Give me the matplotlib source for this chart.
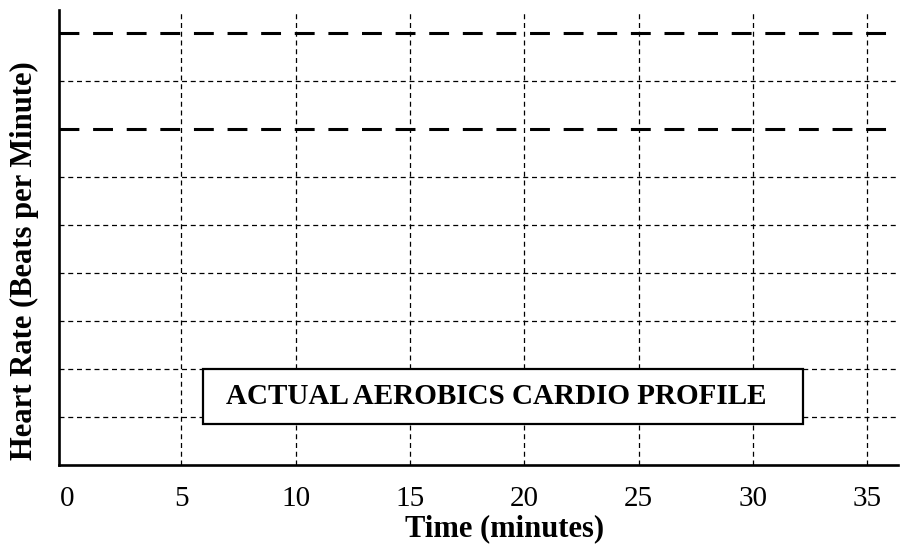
import matplotlib
matplotlib.use("Agg")
from matplotlib import pyplot as plt
from matplotlib.patches import Rectangle

# time axis (minutes) and heart rate grid (bpm)
time_ticks = [0, 5, 10, 15, 20, 25, 30, 35]
hr_grid = [20, 40, 60, 80, 100, 120, 140, 160, 180]
target_zone = [140, 180]   # thick dashed lines
box_label = 'ACTUAL AEROBICS CARDIO PROFILE'

plt.rcParams['font.family'] = ['Liberation Serif', 'DejaVu Serif']

fig = plt.figure(figsize=(9.05, 5.5), dpi=100)
ax = fig.add_axes([0.0652, 0.1545, 0.9271, 0.8273])

ax.set_xlim(-0.35, 36.35)
ax.set_ylim(0, 189.6)

# thin dashed grid
for t in time_ticks[1:]:
    ax.axvline(t, color='black', lw=0.9, ls=(0, (4, 3)), zorder=1)
for h in hr_grid:
    if h not in target_zone:
        ax.axhline(h, color='black', lw=0.9, ls=(0, (4, 3)), zorder=1)

# target zone lines
for h in target_zone:
    ax.axhline(h, color='black', lw=2.2, ls=(0, (6.5, 4.5)), zorder=2)

ax.set_xticks(time_ticks)
ax.set_xticklabels([str(t) for t in time_ticks], fontsize=21)
ax.set_yticks([])
ax.tick_params(axis='x', length=0, pad=15)

for s in ['top', 'right']:
    ax.spines[s].set_visible(False)
for s in ['left', 'bottom']:
    ax.spines[s].set_linewidth(1.9)

ax.set_xlabel('Time (minutes)', fontsize=22, fontweight='bold')
ax.xaxis.set_label_coords(0.5316, -0.14)
ax.xaxis.label.set_va('center')
ax.set_ylabel('Heart Rate (Beats per Minute)', fontsize=22, fontweight='bold')
ax.yaxis.set_label_coords(-0.0417, 0.45)
ax.yaxis.label.set_va('center')

# label box
ax.add_patch(Rectangle((0.1716, 0.0901), 0.715, 0.1209, transform=ax.transAxes,
                       facecolor='white', edgecolor='black', lw=1.6, zorder=5))
ax.text(0.5207, 0.0901 + 0.1209 / 2, box_label, transform=ax.transAxes,
        ha='center', va='center', fontsize=21, fontweight='bold', zorder=6)

fig.savefig('out.png', dpi=100)
